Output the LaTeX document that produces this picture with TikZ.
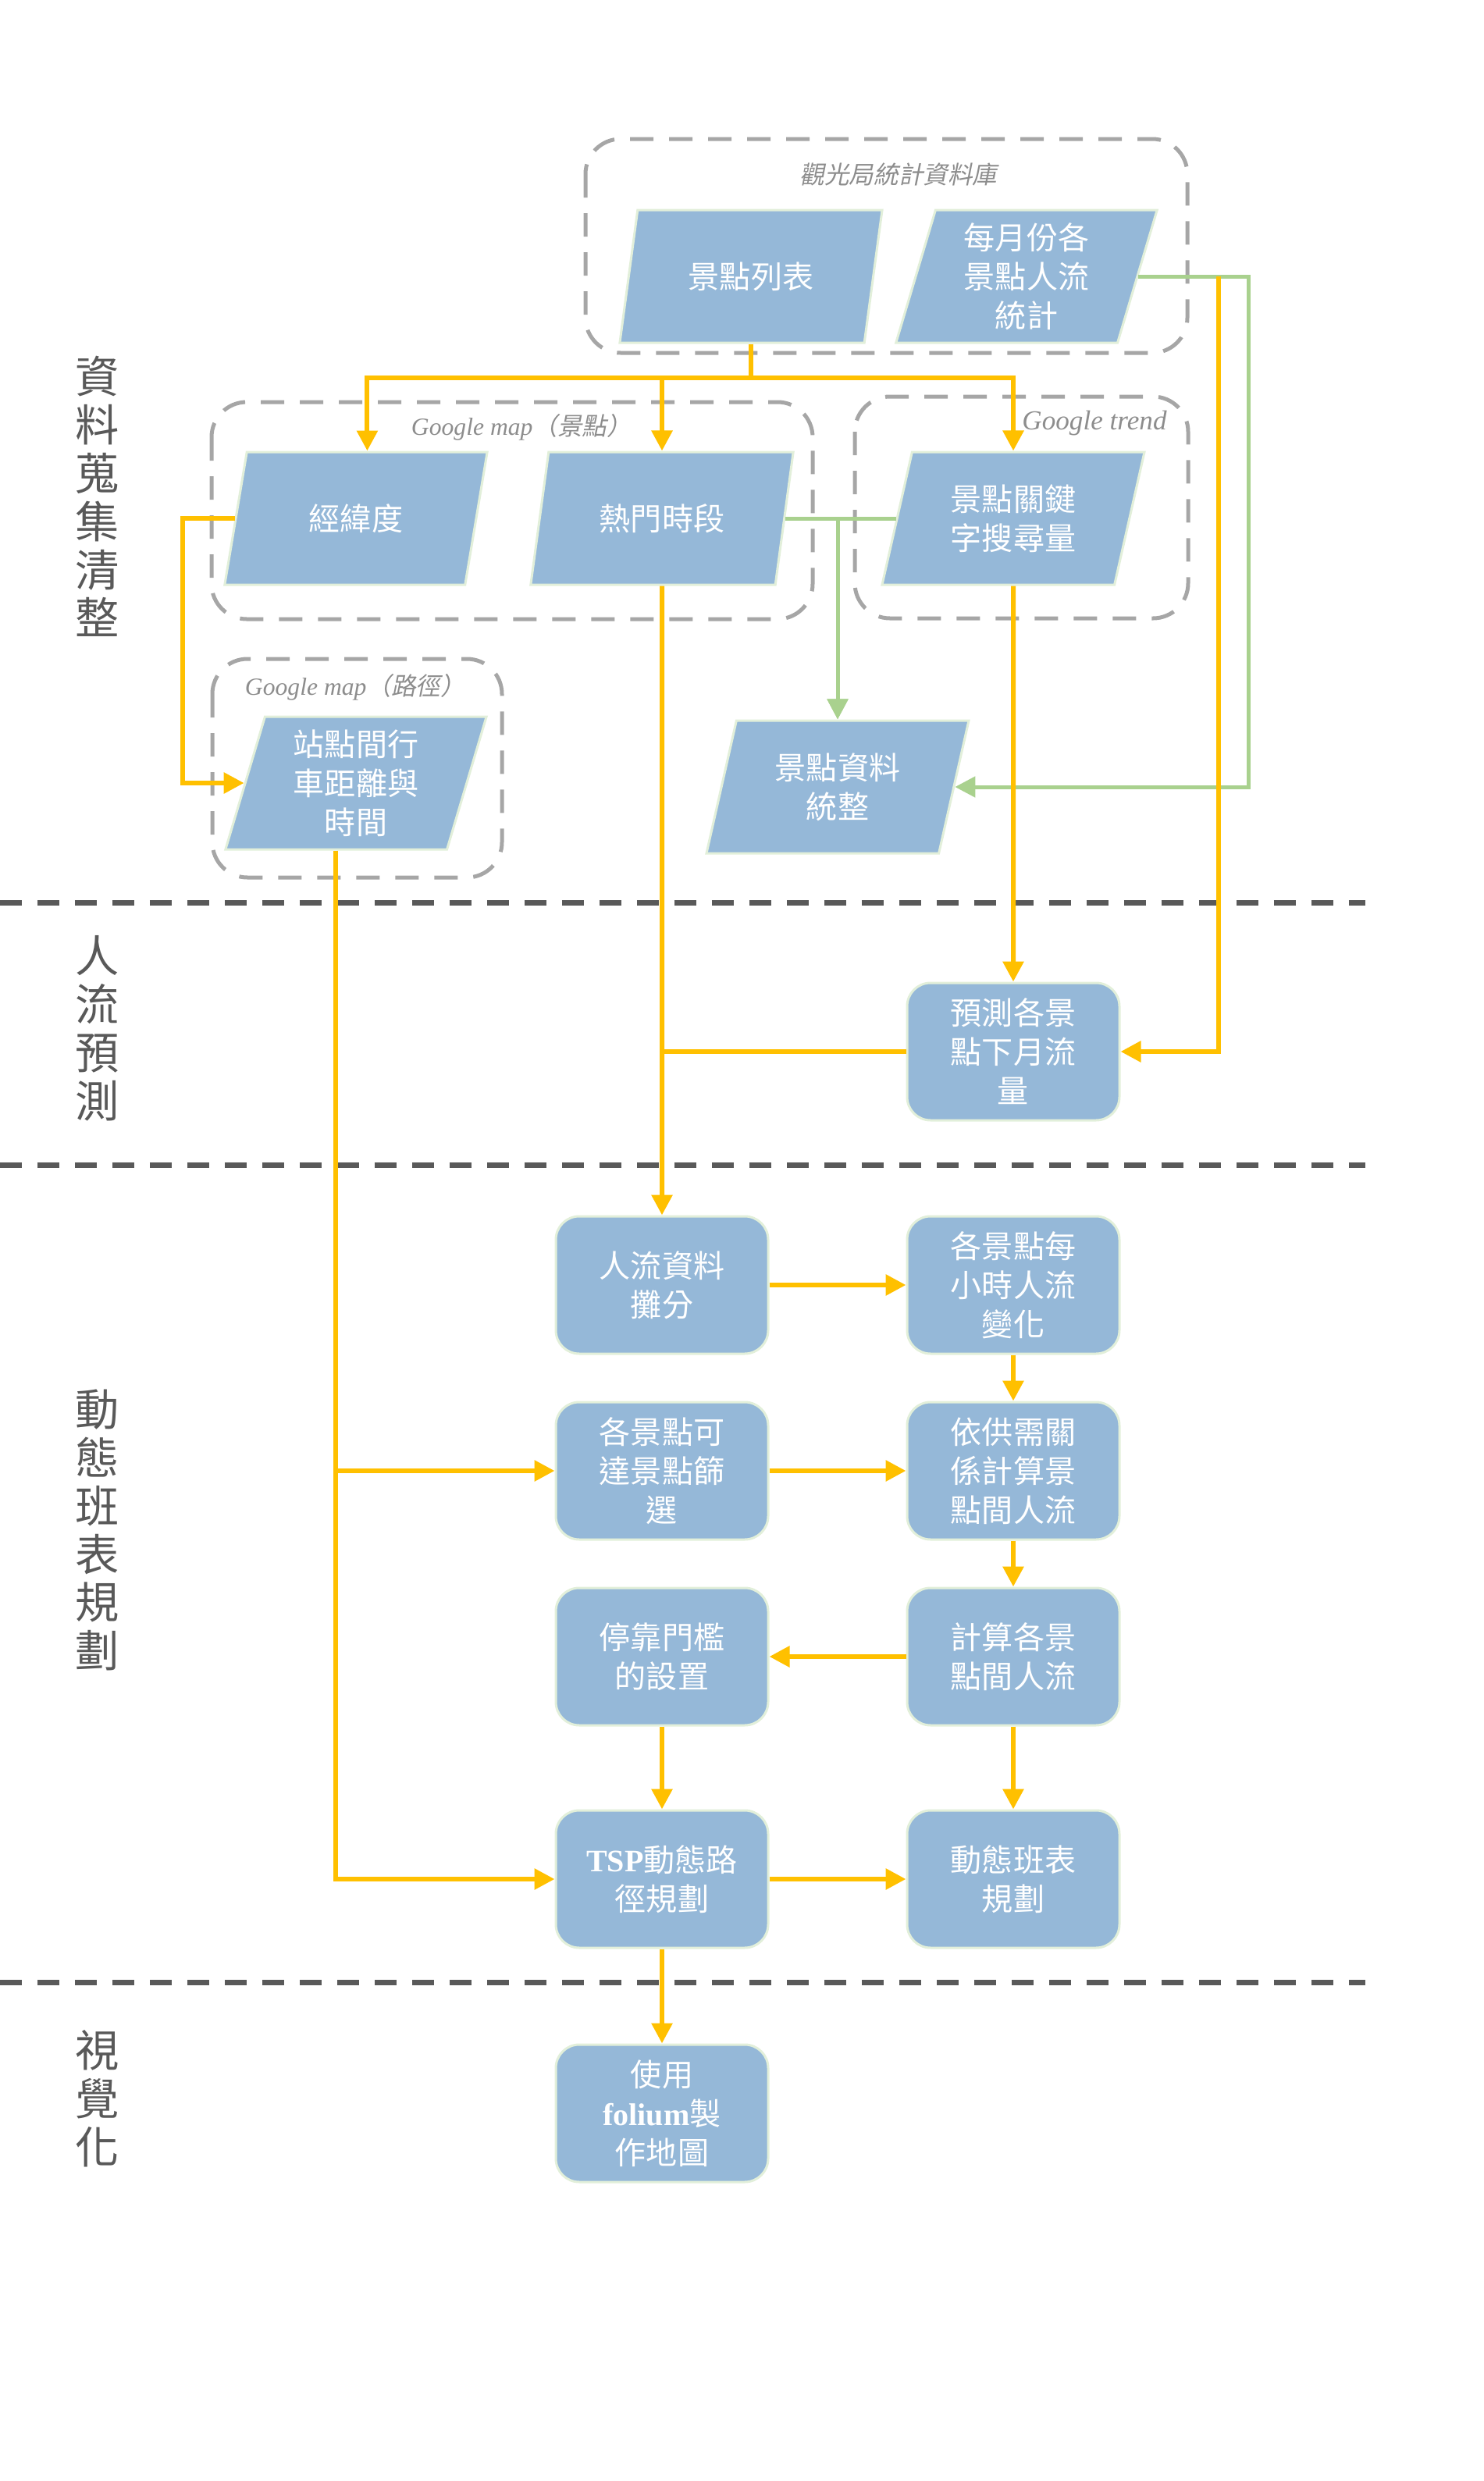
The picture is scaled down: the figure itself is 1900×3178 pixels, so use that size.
\documentclass[tikz,border=0pt]{standalone}
\usepackage{fontspec}
\setmainfont{Noto Sans CJK TC}
\newfontfamily\latinfont{Liberation Serif}
\newfontfamily\slantfont[FakeSlant=0.2]{Noto Sans CJK TC}
\usepackage{tikz}
\usetikzlibrary{shapes.geometric, arrows.meta, positioning}

\definecolor{boxblue}{RGB}{149,184,216}
\definecolor{boxedge}{RGB}{226,239,218}
\definecolor{floworange}{RGB}{255,192,0}
\definecolor{flowgreen}{RGB}{169,209,142}
\definecolor{groupgray}{RGB}{166,166,166}
\definecolor{sectiongray}{RGB}{89,89,89}

\begin{document}
\begin{tikzpicture}[x=0.1mm, y=-0.1mm,
  datasource/.style={trapezium, trapezium left angle=76, trapezium right angle=104, trapezium stretches=true, minimum width=33.7mm, minimum height=17mm, inner sep=1mm, text centered, align=center, draw=boxedge, line width=0.3mm, fill=boxblue, text=white, font=\fontsize{11.4}{14.2}\selectfont},
  process/.style={rectangle, rounded corners=3mm, minimum width=27.2mm, minimum height=17.6mm, inner sep=1mm, text centered, align=center, draw=boxedge, line width=0.3mm, fill=boxblue, text=white, font=\fontsize{11.4}{14.2}\selectfont},
  group/.style={draw=groupgray, line width=0.5mm, dash pattern=on 3mm off 2mm, rounded corners=4.5mm},
  grouplabel/.style={text=groupgray!85!black, font=\fontsize{9}{10}\selectfont, inner sep=0pt},
  phase/.style={align=center, text=sectiongray, font=\fontsize{16}{17.6}\selectfont},
  section/.style={draw=sectiongray, line width=0.7mm, dash pattern=on 2.8mm off 2mm},
  arrow/.style={draw=floworange, line width=0.6mm, -{Triangle[length=2.6mm,width=2.6mm]}},
  plainline/.style={draw=floworange, line width=0.6mm},
  greenarrow/.style={draw=flowgreen, line width=0.5mm, -{Triangle[length=2.6mm,width=2.6mm]}}]

  \useasboundingbox (0,0) rectangle (1900,3178);

  % Groups
  \draw [group] (750,178) rectangle (1521,452);
  \draw [group] (271,515) rectangle (1041,793);
  \draw [group] (1095,508) rectangle (1522,792);
  \draw [group] (272,844) rectangle (643,1124);
  \node (tourismdb) [grouplabel] at (1151,223) {\slantfont 觀光局統計資料庫};
  \node (gmapspot) [grouplabel] at (668,547) {{\latinfont\itshape Google map}\slantfont （景點）};
  \node (gtrend) [grouplabel] at (1402,542) {\latinfont\itshape\fontsize{10}{11}\selectfont Google trend};
  \node (gmaproute) [grouplabel] at (455,880) {{\latinfont\itshape Google map}\slantfont （路徑）};

  % Sections
  \draw [section] (0,1156) -- (1749,1156);
  \draw [section] (0,1492) -- (1749,1492);
  \draw [section] (0,2539) -- (1749,2539);
  \node (collect) [phase] at (125,636) {資\\料\\蒐\\集\\清\\整};
  \node (predict) [phase] at (125,1317) {人\\流\\預\\測};
  \node (plan) [phase] at (125,1960) {動\\態\\班\\表\\規\\劃};
  \node (visual) [phase] at (125,2688) {視\\覺\\化};

  % Nodes
  \node (list) [datasource] at (962,354) {景點列表};
  \node (monthly) [datasource, right of=list, xshift=25.3mm] {每月份各\\景點人流\\統計};
  \node (peak) [datasource, below of=list, xshift=-11.4mm, yshift=-21mm] {熱門時段};
  \node (latlng) [datasource, left of=peak, xshift=-29.2mm] {經緯度};
  \node (keyword) [datasource, right of=peak, xshift=35mm] {景點關鍵\\字搜尋量};
  \node (route) [datasource, below of=latlng, yshift=-23.9mm] {站點間行\\車距離與\\時間};
  \node (merge) [datasource, right of=route, xshift=51.7mm, yshift=-0.5mm] {景點資料\\統整};

  \node (forecast) [process, below of=keyword, yshift=-58.3mm] {預測各景\\點下月流\\量};
  \node (split) [process, below of=peak, yshift=-88.2mm] {人流資料\\攤分};
  \node (hourly) [process, right of=split, xshift=35mm] {各景點每\\小時人流\\變化};
  \node (reach) [process, below of=split, yshift=-13.8mm] {各景點可\\達景點篩\\選};
  \node (demand) [process, right of=reach, xshift=35mm] {依供需關\\係計算景\\點間人流};
  \node (threshold) [process, below of=reach, yshift=-13.8mm] {停靠門檻\\的設置};
  \node (between) [process, right of=threshold, xshift=35mm] {計算各景\\點間人流};
  \node (tsp) [process, below of=threshold, yshift=-18.5mm] {{\latinfont\bfseries TSP}動態路\\徑規劃};
  \node (schedule) [process, right of=tsp, xshift=35mm] {動態班表\\規劃};
  \node (foliummap) [process, below of=tsp, yshift=-20mm] {使用\\{\latinfont\bfseries folium}製\\作地圖};

  % Turning points
  \coordinate [below=4.3mm of list.south] (listhub);
  \coordinate [right=14.1mm of monthly.east] (greenturn);
  \coordinate [right=10.3mm of monthly.east] (orangeturn);
  \coordinate [left=6.7mm of latlng.west] (latturn);

  % Arrows
  \draw [greenarrow] (monthly.east) -- (greenturn) |- (merge.east);
  \draw [greenarrow] (peak.east) -| (merge.north);
  \draw [greenarrow] (keyword.west) -| (merge.north);

  \draw [arrow] (list.south) -- (listhub) -| (latlng.top side);
  \draw [arrow] (listhub) -| (peak);
  \draw [arrow] (listhub) -| (keyword);
  \draw [arrow] (orangeturn) |- (forecast.east);
  \draw [arrow] (latlng.west) -- (latturn) |- (route.west);

  \draw [arrow] (peak) -- (split);
  \draw [arrow] (keyword) -- (forecast);
  \draw [plainline] (forecast.west) -- (forecast.west -| split.north);
  \draw [arrow] (route.bottom side) |- (reach.west);
  \draw [arrow] (route.bottom side) |- (tsp.west);

  \draw [arrow] (split) -- (hourly);
  \draw [arrow] (hourly) -- (demand);
  \draw [arrow] (reach) -- (demand);
  \draw [arrow] (demand) -- (between);
  \draw [arrow] (between) -- (threshold);
  \draw [arrow] (threshold) -- (tsp);
  \draw [arrow] (between) -- (schedule);
  \draw [arrow] (tsp) -- (schedule);
  \draw [arrow] (tsp) -- (foliummap);
\end{tikzpicture}
\end{document}
